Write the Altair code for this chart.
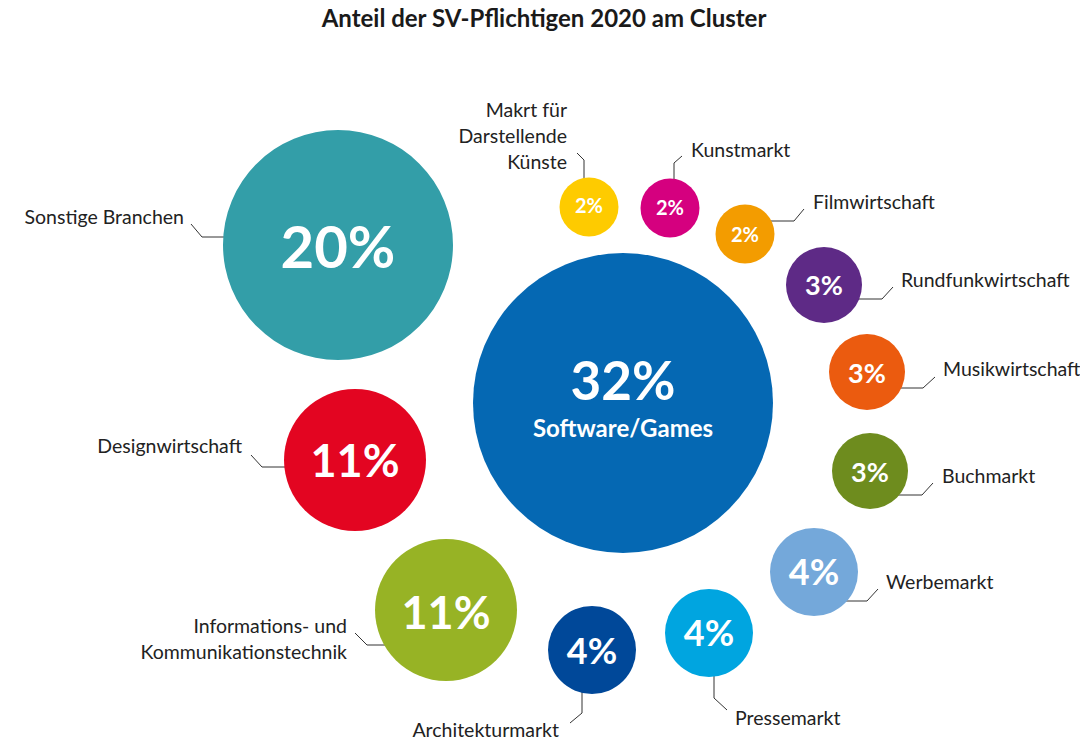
import altair as alt
import pandas as pd

# ---- data ----
categories = [
    "Software/Games", "Sonstige Branchen", "Designwirtschaft",
    "Informations- und\nKommunikationstechnik", "Architekturmarkt", "Pressemarkt",
    "Werbemarkt", "Buchmarkt", "Musikwirtschaft", "Rundfunkwirtschaft",
    "Filmwirtschaft", "Kunstmarkt", "Makrt für\nDarstellende\nKünste",
]
shares = [32, 20, 11, 11, 4, 4, 4, 3, 3, 3, 2, 2, 2]

# ---- styles ----
colors = ["#0568b3", "#339ea8", "#e30521", "#97b325", "#004899", "#00a5e0",
          "#74a8da", "#6e8c1e", "#eb5b0f", "#5e2a86", "#f39c00", "#d5007f", "#fecb00"]
pct_font = [53, 58, 45, 45, 36, 36, 36, 27, 27, 27, 20, 20, 20]
FONT = "Lato"
LABEL_FS = 19.5

# ---- bubble layout (page coordinates) ----
cx = [623, 338, 355, 446, 592, 709, 814, 870, 867, 824, 745, 670, 589]
cy = [403, 245, 460, 610, 650, 633, 572, 471, 372, 285, 234, 208, 207]
pct_base = [400, 268, 477, 629, 664, 646, 585, 482, 383, 295, 242, 215, 213]

# label anchor (baseline of first line) and side
lab_x = [0, 184, 242, 347, 559, 735, 886, 942, 943, 901, 813, 691, 567]
lab_y = [0, 224, 453, 633, 737, 725, 589, 483, 376, 287, 209, 157, 117]
side = ["n", "r", "r", "r", "r", "l", "l", "l", "l", "l", "l", "l", "r"]

# leader lines: 3 points each
lead = {
    "Sonstige Branchen": [(191, 224), (202, 237), (230, 237)],
    "Designwirtschaft": [(251, 455), (262, 467), (290, 467)],
    "Informations- und\nKommunikationstechnik": [(355, 633), (367, 645), (394, 645)],
    "Architekturmarkt": [(570, 723), (582, 713), (582, 685)],
    "Pressemarkt": [(727, 710), (714, 698), (714, 670)],
    "Werbemarkt": [(878, 589), (867, 601), (839, 601)],
    "Buchmarkt": [(933, 483), (922, 495), (893, 495)],
    "Musikwirtschaft": [(935, 377), (923, 388), (896, 388)],
    "Rundfunkwirtschaft": [(893, 287), (882, 299), (853, 299)],
    "Filmwirtschaft": [(804, 209), (794, 221), (767, 221)],
    "Kunstmarkt": [(682, 156), (674, 163), (674, 183)],
    "Makrt für\nDarstellende\nKünste": [(577, 153), (584, 160), (584, 180)],
}

df = pd.DataFrame({
    "cat": categories, "share": shares, "cx": cx, "cy": cy,
    "pct": [f"{s}%" for s in shares], "pct_y": pct_base, "pct_fs": pct_font,
    "lx": lab_x, "ly": lab_y, "side": side,
})
rows = []
for k, pts in lead.items():
    for i, (x, y) in enumerate(pts):
        rows.append({"cat": k, "x": x, "y": y, "o": i})
lead_df = pd.DataFrame(rows)

X = alt.Scale(domain=[8, 1080])
Y = alt.Scale(domain=[48, 739], reverse=True)

base = alt.Chart(df)

circles = base.mark_circle(opacity=1).encode(
    x=alt.X("cx:Q", scale=X, axis=None),
    y=alt.Y("cy:Q", scale=Y, axis=None),
    size=alt.Size("share:Q", legend=None,
                  scale=alt.Scale(domain=[2, 3, 4, 11, 20, 32], zero=False,
                                  range=[59**2, 76**2, 88**2, 142**2, 230**2, 300**2])),
    color=alt.Color("cat:N", legend=None,
                    scale=alt.Scale(domain=categories, range=colors)),
)

pct_layers = []
for fs in sorted(set(pct_font)):
    pct_layers.append(
        base.transform_filter(alt.datum.pct_fs == fs).mark_text(
            font=FONT, fontWeight="bold", color="white", fontSize=fs,
            align="center", baseline="alphabetic").encode(
            x=alt.X("cx:Q", scale=X, axis=None),
            y=alt.Y("pct_y:Q", scale=Y, axis=None),
            text="pct:N",
        )
    )

sub = base.transform_filter(alt.datum.share == 32).mark_text(
    font=FONT, fontWeight="bold", color="white", fontSize=24,
    align="center", baseline="alphabetic", dy=37).encode(
    x=alt.X("cx:Q", scale=X, axis=None),
    y=alt.Y("pct_y:Q", scale=Y, axis=None),
    text="cat:N",
)

lab_r = base.transform_filter(alt.datum.side == "r").mark_text(
    font=FONT, fontSize=LABEL_FS, color="#222222", align="right",
    baseline="alphabetic", lineBreak="\n", lineHeight=26).encode(
    x=alt.X("lx:Q", scale=X, axis=None), y=alt.Y("ly:Q", scale=Y, axis=None),
    text="cat:N")

lab_l = base.transform_filter(alt.datum.side == "l").mark_text(
    font=FONT, fontSize=LABEL_FS, color="#222222", align="left",
    baseline="alphabetic", lineBreak="\n", lineHeight=26).encode(
    x=alt.X("lx:Q", scale=X, axis=None), y=alt.Y("ly:Q", scale=Y, axis=None),
    text="cat:N")

leaders = alt.Chart(lead_df).mark_line(color="#333333", strokeWidth=1).encode(
    x=alt.X("x:Q", scale=X, axis=None), y=alt.Y("y:Q", scale=Y, axis=None),
    detail="cat:N", order="o:Q")

chart = alt.layer(leaders, circles, *pct_layers, sub, lab_r, lab_l).properties(
    width=1072, height=691,
    title=alt.TitleParams("Anteil der SV-Pflichtigen 2020 am Cluster",
                          font=FONT, fontSize=24, fontWeight="bold",
                          color="#1a1a1a", anchor="middle", offset=16),
    autosize=alt.AutoSizeParams(type="none"),
    padding={"left": 0, "top": 40, "right": 0, "bottom": 0},
).configure_view(stroke=None)

chart.save("out.html", embed_options={"renderer": "svg", "actions": False})
